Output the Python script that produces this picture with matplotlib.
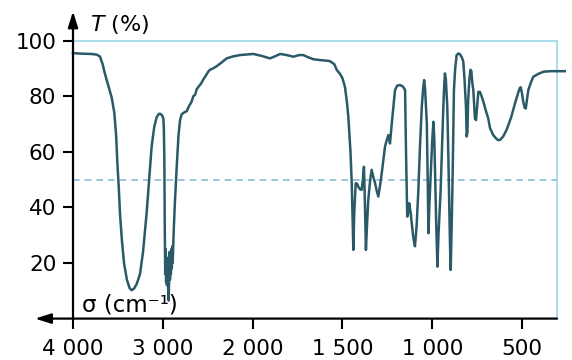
import numpy as np
import matplotlib
matplotlib.use("Agg")
import matplotlib.pyplot as plt

# ---- data ----
wavenumber = [4000, 3900, 3800, 3740, 3700, 3670, 3644, 3600, 3569, 3540, 3520, 3506, 3490, 3477,
              3455, 3432, 3400, 3370, 3347, 3320, 3290, 3254, 3220, 3180, 3150, 3124, 3095, 3068,
              3045, 3031, 3010, 2994, 2988, 2983, 2978, 2973, 2968, 2963, 2958, 2953, 2948, 2943,
              2938, 2934, 2930, 2925, 2920, 2915, 2910, 2905, 2900, 2895, 2890, 2885, 2878, 2865,
              2845, 2825, 2808, 2790, 2760, 2733,
              2715, 2697, 2680, 2660, 2640, 2623, 2600, 2575, 2549, 2520, 2490, 2475, 2440, 2400,
              2350, 2289, 2220, 2140, 2060, 1996, 1950, 1903, 1870, 1847, 1810, 1773, 1740, 1718,
              1690, 1662, 1625, 1590, 1569, 1545, 1532, 1513, 1500, 1486, 1475, 1467, 1455, 1448,
              1443, 1439, 1434, 1426, 1418, 1411, 1402, 1393, 1386, 1380, 1374, 1369, 1362, 1356,
              1345, 1337, 1328, 1318, 1309, 1300, 1290, 1281, 1270, 1263, 1254, 1244, 1235, 1225,
              1215, 1207, 1195, 1179, 1163, 1151, 1146, 1139, 1133, 1128, 1120, 1114, 1105, 1096,
              1087, 1077, 1068, 1058, 1050, 1045, 1040, 1030, 1025, 1021, 1015, 1008, 1000, 993,
              988, 984, 978, 971, 965, 953, 945, 938, 933, 929, 924, 916, 910, 905, 901, 897, 892,
              886, 879, 872, 864, 853, 845, 835, 827, 820, 812, 808, 804, 800, 793, 787, 782, 777,
              771, 762, 756, 750, 743, 734, 725, 715, 700, 688, 678, 660, 640, 631, 622, 605, 585,
              560, 539, 520, 512, 507, 500, 493, 485, 479, 474, 465, 450, 437, 410, 381, 340, 300,
              262]
transmittance = [95.5, 95.3, 95.2, 95.0, 94.3, 91.5, 88, 83, 79.5, 74, 66, 56, 47, 38,
                 28, 20, 14, 11, 10.2, 10.8, 12.5, 16, 24, 38, 51, 62, 69, 72.5,
                 73.6, 73.7, 73.2, 72, 68, 58, 32, 16, 25, 13, 22, 12, 21, 14,
                 8, 6.5, 15, 24, 14, 22, 16, 25, 18, 26, 20, 25, 32, 42,
                 54.6, 66, 71.4, 73.5, 74.2, 74.6,
                 76, 77, 78, 80, 80.5, 82.5, 83.5, 84.5, 86, 87.5, 89, 89.5, 90, 90.8,
                 92, 93.6, 94.3, 94.8, 95, 95.2, 94.5, 93.6, 94.5, 95.2, 94.8, 94.2, 94.8, 94.8,
                 94, 93.3, 93, 92.8, 92.6, 91.5, 89.5, 88, 86.5, 83.4, 78, 72.6, 60, 48.7,
                 35, 24.7, 38, 48.7, 48.5, 47.4, 46.5, 46.3, 50, 54.6, 40, 24.7, 35, 42.7,
                 50, 53.5, 51, 48.7, 46, 43.9, 48, 52.3, 58, 61.8, 64, 66, 63, 70.3,
                 77, 82.2, 83.8, 84, 83.5, 82.2, 60.6, 36.7, 38.5, 41.5, 38, 34.3, 29, 26,
                 33, 46.3, 62, 76.2, 83, 85.8, 83, 70.3, 50, 30.7, 42, 52.3, 64, 70.8,
                 64, 52.3, 35, 18.7, 30, 46.3, 62, 76.2, 84, 88.2, 86, 76.2, 58, 40.3, 27, 17.5, 32,
                 52.3, 82.2, 90, 94.8, 95.4, 95, 94, 92.5, 86, 76.2, 65.5, 67, 78, 86, 89.5, 89, 85,
                 82.2, 72, 71.4, 76, 81.6, 81.5, 80, 78, 74.5, 72, 68.5, 66, 64.5, 64.2, 64.3, 65.5, 68,
                 72.5, 77.4, 81.5, 83, 83.2, 81, 78, 75.8, 75.6, 78, 82.2, 85, 87, 88, 88.8, 89, 89,
                 89]
x_ticks = [4000, 3000, 2000, 1500, 1000, 500]
x_tick_labels = ["4 000", "3 000", "2 000", "1 500", "1 000", "500"]
y_ticks = [20, 40, 60, 80, 100]
y_tick_labels = ["20", "40", "60", "80", "100"]
reference_level = 50
box_top = 100
box_right = 305


# ---- split wavenumber scale: below 2000 cm-1 the scale is doubled ----
def fwd(s):
    s = np.asarray(s, dtype=float)
    return np.where(s >= 2000, s, 2 * s - 2000)


def inv(u):
    u = np.asarray(u, dtype=float)
    return np.where(u >= 2000, u, (u + 2000) / 2)


W, H = 572, 360
fig = plt.figure(figsize=(W / 100, H / 100), dpi=100)

# pixel layout of the reference
px_per_u = 0.0898          # pixels per transformed unit
x0_px = 73.0               # pixel of 4000 cm-1
y0_px = 318.6              # pixel of T = 0
py_per_T = 2.78
xl, xr = 4450, 230
yb, yt = -5, 114
left_px = x0_px + (4000 - float(fwd(xl))) * px_per_u
right_px = x0_px + (4000 - float(fwd(xr))) * px_per_u
top_px = y0_px - yt * py_per_T
bot_px = y0_px - yb * py_per_T
ax = fig.add_axes([left_px / W, 1 - bot_px / H, (right_px - left_px) / W, (bot_px - top_px) / H])
ax.set_xscale('function', functions=(fwd, inv))
ax.set_xlim(xl, xr)
ax.set_ylim(yb, yt)
ax.patch.set_alpha(0)

line_col = '#2a5a68'
box_col = '#93d3e4'
dash_col = '#86bfd3'

# frame lines
ax.plot([4000, box_right], [box_top, box_top], color=box_col, lw=1.1, zorder=1)
ax.plot([box_right, box_right], [0, box_top], color=box_col, lw=1.1, zorder=1)
dl, = ax.plot([4000, box_right], [reference_level, reference_level], color=dash_col, lw=1.2, zorder=1)
dl.set_dashes((4, 3))

# spectrum
ax.plot(wavenumber, transmittance, color=line_col, lw=1.8, zorder=3, solid_joinstyle='round')

# axes with arrows
for s in ['top', 'right']:
    ax.spines[s].set_visible(False)
ax.spines['left'].set_position(('data', 4000))
ax.spines['bottom'].set_position(('data', 0))
ax.spines['left'].set_color('none')
ax.spines['bottom'].set_color('none')
arrow = dict(arrowstyle='-|>,head_length=0.95,head_width=0.3', lw=1.6, color='black',
             shrinkA=0, shrinkB=0, mutation_scale=10)
ax.annotate('', xy=(4423, 0), xytext=(box_right, 0), arrowprops=arrow, annotation_clip=False, zorder=4)
ax.annotate('', xy=(4000, 110.5), xytext=(4000, 0), arrowprops=arrow, annotation_clip=False, zorder=4)

ax.set_xticks(x_ticks)
ax.set_xticklabels(x_tick_labels)
ax.set_yticks(y_ticks)
ax.set_yticklabels(y_tick_labels)
ax.xaxis.set_minor_locator(matplotlib.ticker.NullLocator())
ax.tick_params(axis='x', direction='out', length=7, width=1.5, pad=7.5, labelsize=15.5, color='black')
ax.tick_params(axis='y', direction='out', length=7, width=1.5, pad=5, labelsize=15.5, color='black')

ax.text(3811, 103.5, r'$\it{T}$ (%)', fontsize=16, va='baseline', ha='left')
ax.text(3903, 2.7, 'σ (cm⁻¹)', fontsize=16.5, va='baseline', ha='left', zorder=2)

fig.savefig('out.png', dpi=100)
